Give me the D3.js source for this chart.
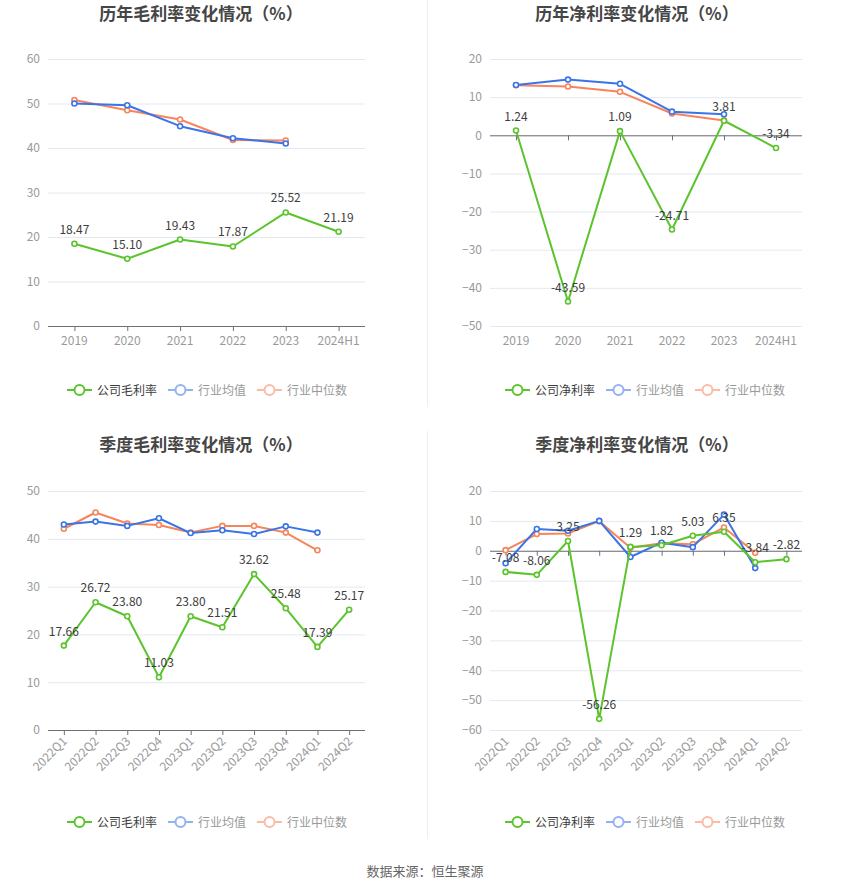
<!DOCTYPE html>
<html>
<head>
  <meta charset="utf-8"/>
  <title>利率变化情况</title>
  <style type="text/css">
    body {
      padding:0;
      margin:0;
      background-color:white;
      font-family: "Noto Sans CJK SC", "Noto Sans", sans-serif;
    }
  </style>
  <script src="https://cdn.jsdelivr.net/npm/d3@7/dist/d3.min.js" charset="utf-8"></script>
</head>

<body>
  <script type="text/javascript">

  // DATA
  var years = ["2019", "2020", "2021", "2022", "2023", "2024H1"];
  var quarters = ["2022Q1", "2022Q2", "2022Q3", "2022Q4", "2023Q1", "2023Q2", "2023Q3", "2023Q4", "2024Q1", "2024Q2"];

  var yearGross = [18.47, 15.10, 19.43, 17.87, 25.52, 21.19];
  var yearGrossMean = [50.0, 49.6, 44.9, 42.2, 41.0, null];
  var yearGrossMedian = [50.8, 48.5, 46.4, 41.8, 41.7, null];

  var yearNet = [1.24, -43.59, 1.09, -24.71, 3.81, -3.34];
  var yearNetMean = [13.2, 14.6, 13.5, 6.2, 5.5, null];
  var yearNetMedian = [13.1, 12.8, 11.4, 5.7, 3.9, null];

  var quarterGross = [17.66, 26.72, 23.80, 11.03, 23.80, 21.51, 32.62, 25.48, 17.39, 25.17];
  var quarterGrossMean = [43.0, 43.6, 42.7, 44.3, 41.2, 41.8, 41.0, 42.6, 41.3, null];
  var quarterGrossMedian = [42.1, 45.5, 43.2, 42.9, 41.3, 42.7, 42.7, 41.3, 37.6, null];

  var quarterNet = [-7.08, -8.06, 3.25, -56.26, 1.29, 1.82, 5.03, 6.35, -3.84, -2.82];
  var quarterNetMean = [-4.2, 7.3, 6.7, 10.0, -2.1, 2.7, 1.2, 12.1, -5.8, null];
  var quarterNetMedian = [0.2, 5.6, 5.8, 9.9, 1.0, 2.5, 2.2, 7.8, -0.7, null];

  var grossTicks = [0, 10, 20, 30, 40, 50, 60];
  var yearNetTicks = [20, 10, 0, -10, -20, -30, -40, -50];
  var quarterGrossTicks = [0, 10, 20, 30, 40, 50];
  var quarterNetTicks = [20, 10, 0, -10, -20, -30, -40, -50, -60];

  // COLORS
  var green = "#5bc42c",
      blue = "#3a74e6",
      orange = "#f8845b",
      gridColor = "#e4e8f1",
      axisColor = "#6e7079",
      tickText = "#9a9a9a",
      labelColor = "#3d3d3d";

  var w = 850, h = 891;

  var svg = d3.select("body").append("svg")
              .attr("width", w)
              .attr("height", h);

  // dividers between the panels
  svg.append("line").attr("x1", 427.5).attr("x2", 427.5).attr("y1", 0).attr("y2", 407)
     .style("stroke", "#eeeeee");
  svg.append("line").attr("x1", 427.5).attr("x2", 427.5).attr("y1", 431).attr("y2", 839)
     .style("stroke", "#eeeeee");

  function drawPanel(p) {
    var g = svg.append("g");

    var x = d3.scalePoint().domain(p.cats).range([p.left, p.right]).padding(0.5);
    var y = d3.scaleLinear().domain(p.domain).range([p.bottom, p.top]);

    // title
    g.append("text")
     .attr("x", p.titleX)
     .attr("y", p.titleY)
     .attr("text-anchor", "middle")
     .style("font-size", "17px")
     .style("font-weight", "bold")
     .style("fill", "#464646")
     .text(p.title);

    // grid + y labels
    var yAxis = d3.axisLeft(y).tickValues(p.ticks).tickSize(-(p.right - p.left)).tickPadding(8);
    var ya = g.append("g").attr("transform", "translate(" + p.left + ",0)").call(yAxis);
    ya.select(".domain").remove();
    ya.selectAll(".tick line").style("stroke", gridColor);
    ya.selectAll(".tick text").style("fill", tickText).style("font-size", "12px")
      .style("font-family", "'Noto Sans CJK SC', sans-serif");

    // x axis at zero
    var xAxis = d3.axisBottom(x).tickSizeOuter(0).tickSizeInner(5).tickPadding(p.rotate ? 6 : 8);
    var xa = g.append("g").attr("transform", "translate(0," + y(0) + ")").call(xAxis);
    xa.select(".domain").attr("d", "M" + p.left + ",0.5H" + p.right).style("stroke", axisColor);
    xa.selectAll(".tick line").style("stroke", axisColor);
    xa.selectAll(".tick text").remove();

    // category labels along the bottom
    var xl = g.append("g").selectAll("text").data(p.cats).enter().append("text")
              .style("fill", tickText)
              .style("font-size", "12px")
              .text(function(d) { return d; });
    if (p.rotate) {
      xl.attr("text-anchor", "end")
        .attr("transform", function(d) { return "translate(" + (x(d) + 4) + "," + (p.bottom + 12) + ") rotate(-45)"; });
    } else {
      xl.attr("text-anchor", "middle")
        .attr("x", function(d) { return x(d); })
        .attr("y", p.bottom + 19);
    }

    var line = d3.line()
                 .defined(function(d) { return d != null; })
                 .x(function(d, i) { return x(p.cats[i]); })
                 .y(function(d) { return y(d); });

    var series = [
      { values: p.median, color: orange },
      { values: p.mean, color: blue },
      { values: p.company, color: green }
    ];

    series.forEach(function(s) {
      g.append("path")
       .datum(s.values)
       .attr("d", line)
       .style("fill", "none")
       .style("stroke", s.color)
       .style("stroke-width", 2)
       .style("stroke-linejoin", "round");

      g.append("g").selectAll("circle")
       .data(s.values.map(function(v, i) { return { v: v, c: p.cats[i] }; })
                     .filter(function(d) { return d.v != null; }))
       .enter().append("circle")
       .attr("cx", function(d) { return x(d.c); })
       .attr("cy", function(d) { return y(d.v); })
       .attr("r", 2.5)
       .style("fill", "white")
       .style("stroke", s.color)
       .style("stroke-width", 1.6);
    });

    // value labels for the company line
    g.append("g").selectAll("text")
     .data(p.company)
     .enter().append("text")
     .attr("x", function(d, i) { return x(p.cats[i]); })
     .attr("y", function(d) { return y(d) - 10; })
     .attr("text-anchor", "middle")
     .style("font-size", "12px")
     .style("fill", labelColor)
     .text(function(d) { return d.toFixed(2); });

    // legend
    var items = [
      { name: p.names[0], color: green, text: "#3d3d3d", op: 1 },
      { name: "行业均值", color: blue, text: "#999999", op: 0.55 },
      { name: "行业中位数", color: orange, text: "#999999", op: 0.55 }
    ];
    var lx = p.legendX;
    items.forEach(function(it) {
      var lg = g.append("g").attr("transform", "translate(" + lx + "," + p.legendY + ")").style("opacity", it.op);
      lg.append("line").attr("x1", 0).attr("x2", 25).attr("y1", 0).attr("y2", 0)
        .style("stroke", it.color).style("stroke-width", 2);
      lg.append("circle").attr("cx", 12.5).attr("cy", 0).attr("r", 5)
        .style("fill", "white").style("stroke", it.color).style("stroke-width", 2);
      g.append("text")
       .attr("x", lx + 30).attr("y", p.legendY + 4.5)
       .style("font-size", "12px")
       .style("fill", it.text)
       .text(it.name);
      lx += 30 + it.name.length * 12 + 11;
    });
  }

  drawPanel({
    title: "历年毛利率变化情况（%）", titleX: 201, titleY: 20,
    cats: years, company: yearGross, mean: yearGrossMean, median: yearGrossMedian,
    domain: [0, 60], ticks: grossTicks,
    left: 48, right: 365, top: 59, bottom: 326, rotate: false,
    names: ["公司毛利率"], legendX: 67, legendY: 390
  });

  drawPanel({
    title: "历年净利率变化情况（%）", titleX: 637, titleY: 20,
    cats: years, company: yearNet, mean: yearNetMean, median: yearNetMedian,
    domain: [-50, 20], ticks: yearNetTicks,
    left: 490, right: 802, top: 59, bottom: 326, rotate: false,
    names: ["公司净利率"], legendX: 505, legendY: 390
  });

  drawPanel({
    title: "季度毛利率变化情况（%）", titleX: 201, titleY: 451,
    cats: quarters, company: quarterGross, mean: quarterGrossMean, median: quarterGrossMedian,
    domain: [0, 50], ticks: quarterGrossTicks,
    left: 48, right: 365, top: 491, bottom: 730, rotate: true,
    names: ["公司毛利率"], legendX: 67, legendY: 822
  });

  drawPanel({
    title: "季度净利率变化情况（%）", titleX: 637, titleY: 451,
    cats: quarters, company: quarterNet, mean: quarterNetMean, median: quarterNetMedian,
    domain: [-60, 20], ticks: quarterNetTicks,
    left: 490, right: 802, top: 491, bottom: 730, rotate: true,
    names: ["公司净利率"], legendX: 505, legendY: 822
  });

  // source
  svg.append("text")
     .attr("x", 425)
     .attr("y", 876)
     .attr("text-anchor", "middle")
     .style("font-size", "13px")
     .style("fill", "#666666")
     .text("数据来源：恒生聚源");

  </script>
</body>
</html>
